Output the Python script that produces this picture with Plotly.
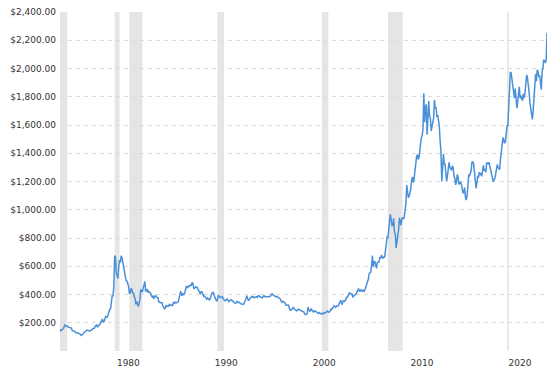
import pandas as pd
import plotly.graph_objects as go

# Monthly gold price (USD / oz), starting June 1974
prices_1970s = [
    154, 143, 150, 151, 158, 181, 184,                              # 1974 (Jun-Dec)
    176, 180, 178, 169, 167, 165, 166, 162, 144, 142, 142, 139,     # 1975
    131, 132, 130, 128, 126, 125, 118, 110, 114, 118, 130, 134,     # 1976
    132, 142, 148, 149, 146, 141, 144, 145, 150, 158, 162, 161,     # 1977
    173, 178, 184, 172, 177, 183, 189, 206, 212, 227, 206, 208,     # 1978
    227, 245, 242, 239, 257, 279, 295, 300, 355, 392, 392, 455,     # 1979
]
prices_1980s = [
    675, 665, 553, 517, 513, 600, 644, 627, 674, 661, 623, 594,     # 1980
    557, 500, 499, 495, 480, 460, 409, 410, 443, 437, 413, 410,     # 1981
    384, 374, 330, 350, 334, 315, 339, 364, 436, 422, 417, 445,     # 1982
    481, 492, 420, 432, 438, 413, 422, 416, 411, 393, 382, 388,     # 1983
    370, 386, 394, 381, 377, 378, 348, 348, 341, 340, 341, 320,     # 1984
    303, 299, 304, 325, 316, 317, 317, 330, 323, 326, 325, 322,     # 1985
    345, 339, 346, 340, 342, 343, 348, 376, 418, 423, 398, 391,     # 1986
    408, 401, 409, 438, 460, 450, 450, 461, 460, 466, 465, 486,     # 1987
    477, 442, 443, 452, 451, 451, 437, 432, 413, 406, 419, 419,     # 1988
    404, 388, 390, 384, 371, 367, 375, 365, 362, 367, 394, 409,     # 1989
]
prices_1990s = [
    410, 417, 393, 374, 369, 352, 362, 395, 389, 381, 382, 378,     # 1990
    384, 363, 363, 358, 357, 367, 368, 356, 349, 359, 360, 362,     # 1991
    354, 354, 345, 338, 337, 341, 353, 343, 345, 344, 335, 334,     # 1992
    329, 330, 330, 342, 367, 372, 392, 378, 355, 364, 374, 383,     # 1993
    387, 382, 384, 377, 381, 385, 385, 380, 391, 389, 384, 379,     # 1994
    379, 376, 382, 391, 385, 387, 386, 383, 383, 383, 386, 387,     # 1995
    400, 405, 397, 393, 392, 385, 383, 387, 383, 381, 378, 369,     # 1996
    355, 346, 352, 344, 344, 341, 324, 324, 323, 325, 306, 289,     # 1997
    289, 297, 296, 308, 299, 292, 293, 284, 289, 296, 294, 291,     # 1998
    287, 287, 286, 282, 276, 261, 256, 257, 265, 311, 293, 283,     # 1999
]
prices_2000s = [
    285, 300, 286, 280, 275, 285, 282, 275, 273, 270, 266, 272,     # 2000
    265, 262, 263, 261, 273, 270, 268, 273, 283, 283, 276, 275,     # 2001
    282, 296, 294, 302, 314, 321, 314, 310, 319, 317, 319, 333,     # 2002
    357, 359, 340, 328, 355, 356, 351, 360, 379, 379, 390, 407,     # 2003
    414, 405, 406, 404, 384, 392, 398, 400, 405, 420, 439, 442,     # 2004
    424, 423, 434, 429, 422, 430, 424, 437, 456, 470, 476, 510,     # 2005
    549, 555, 557, 610, 676, 596, 633, 632, 598, 585, 627, 629,     # 2006
    631, 664, 655, 679, 667, 655, 665, 665, 712, 754, 806, 803,     # 2007
    889, 922, 968, 909, 888, 889, 939, 839, 829, 730, 760, 816,     # 2008
    858, 943, 924, 890, 928, 946, 934, 949, 996, 1043, 1175, 1100,  # 2009
]
prices_2010s = [
    1085, 1095, 1114, 1148, 1205, 1233, 1193, 1215, 1271, 1342, 1370, 1391,  # 2010
    1356, 1372, 1424, 1473, 1510, 1529, 1572, 1825, 1620, 1722, 1746, 1531,  # 2011
    1744, 1770, 1662, 1651, 1558, 1598, 1622, 1648, 1776, 1720, 1726, 1657,  # 2012
    1670, 1627, 1593, 1485, 1414, 1200, 1314, 1394, 1326, 1324, 1253, 1204,  # 2013
    1244, 1300, 1336, 1299, 1287, 1279, 1311, 1296, 1239, 1222, 1176, 1200,  # 2014
    1250, 1227, 1179, 1198, 1199, 1181, 1128, 1117, 1125, 1157, 1086, 1068,  # 2015
    1097, 1199, 1245, 1242, 1259, 1276, 1337, 1340, 1326, 1266, 1236, 1152,  # 2016
    1192, 1234, 1231, 1266, 1246, 1260, 1237, 1283, 1315, 1280, 1283, 1265,  # 2017
    1331, 1331, 1325, 1335, 1303, 1282, 1238, 1202, 1199, 1215, 1221, 1250,  # 2018
    1291, 1320, 1300, 1286, 1284, 1359, 1413, 1500, 1511, 1495, 1471, 1480,  # 2019
]
prices_2020s = [
    1560, 1597, 1592, 1716, 1800, 1975, 1968, 1921, 1880, 1866, 1790, 1858,  # 2020
    1800, 1720, 1760, 1850, 1870, 1790, 1810, 1780, 1777, 1821, 1790, 1830,  # 2021
    1900, 1955, 1937, 1849, 1837, 1760, 1720, 1681, 1640, 1700, 1800, 1898,  # 2022
    1960, 1910, 1990, 1980, 1940, 1951, 1900, 1850, 1980, 2000, 2063, 2050,  # 2023
    2040, 2060, 2253,                                                        # 2024 (Jan-Mar)
]
start_month = "1974-06-01"

# US recessions (shaded bands)
recession_starts = ["1973-11-01", "1980-01-01", "1981-07-01", "1990-07-01",
                    "2001-03-01", "2007-12-01", "2020-02-01"]
recession_ends = ["1975-03-01", "1980-07-01", "1982-11-01", "1991-03-01",
                  "2001-11-01", "2009-06-01", "2020-04-01"]

x_tick_years = [1980, 1990, 2000, 2010, 2020]
y_tick_values = [0, 200, 400, 600, 800, 1000, 1200, 1400, 1600, 1800, 2000, 2200, 2400]

prices = prices_1970s + prices_1980s + prices_1990s + prices_2000s + prices_2010s + prices_2020s
dates = pd.date_range(start_month, periods=len(prices), freq="MS")
x_start = dates[0].strftime("%Y-%m-%d")
x_end = dates[-1].strftime("%Y-%m-%d")

fig = go.Figure()
fig.add_trace(go.Scatter(
    x=dates.strftime("%Y-%m-%d"), y=prices, mode="lines",
    line=dict(color="#4a90d9", width=1.5),
    hoverinfo="skip",
))

for s, e in zip(recession_starts, recession_ends):
    s_clip = max(s, x_start)
    fig.add_shape(type="rect", xref="x", yref="paper",
                  x0=s_clip, x1=e, y0=0, y1=1,
                  fillcolor="#e5e5e5", line=dict(width=0), layer="below")

font = dict(family="DejaVu Sans, Verdana, sans-serif", size=9, color="#333333")

fig.update_layout(
    width=557, height=375,
    margin=dict(l=60, r=10, t=12, b=24),
    paper_bgcolor="white", plot_bgcolor="white",
    showlegend=False,
    font=font,
    xaxis=dict(
        type="date",
        range=[x_start, x_end],
        showgrid=False, zeroline=False, showline=False,
        tickmode="array",
        tickvals=[f"{y + 1}-05-26" for y in x_tick_years],
        ticktext=[str(y) for y in x_tick_years],
        ticks="", tickfont=font, automargin=False,
        ticklabelstandoff=5,
    ),
    yaxis=dict(
        range=[0, 2400],
        showgrid=True, gridcolor="#dcdcdc", griddash="4px,4px", gridwidth=1,
        zeroline=False, showline=False,
        tickmode="array",
        tickvals=y_tick_values,
        ticktext=["" if v == 0 else f"${v:,.2f}" for v in y_tick_values],
        ticks="", tickfont=font, automargin=False,
        ticklabelstandoff=3,
    ),
)

fig.write_html("out.html", config={"displayModeBar": False},
               post_script="document.body.style.margin='0';")
